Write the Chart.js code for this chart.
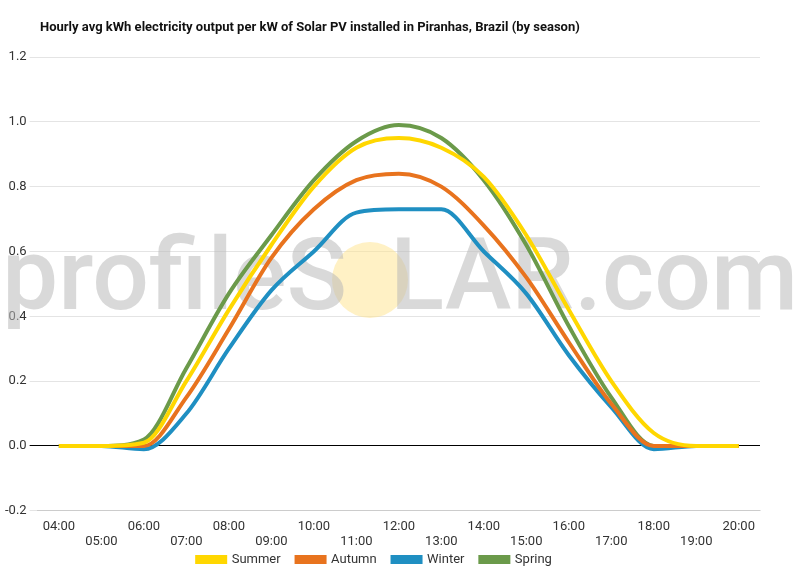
<!DOCTYPE html>
<html>
<head>
<meta charset="UTF-8">
<script src="https://cdn.jsdelivr.net/npm/chart.js"></script>
<style>
  body { margin: 0; background: #fff; font-family: Roboto, sans-serif; }
</style>
</head>
<body>
<canvas id="chart" width="800" height="570"></canvas>
<script>
const chartTitle = 'Hourly avg kWh electricity output per kW of Solar PV installed in Piranhas, Brazil (by season)';
const hours = ['04:00','05:00','06:00','07:00','08:00','09:00','10:00','11:00','12:00','13:00','14:00','15:00','16:00','17:00','18:00','19:00','20:00'];
const summer = [0, 0, 0.01, 0.2, 0.42, 0.62, 0.8, 0.92, 0.95, 0.92, 0.83, 0.65, 0.42, 0.2, 0.04, 0, 0];
const autumn = [0, 0, 0, 0.15, 0.36, 0.58, 0.73, 0.82, 0.84, 0.8, 0.68, 0.52, 0.32, 0.13, 0, 0, 0];
const winter = [0, 0, -0.01, 0.1, 0.3, 0.48, 0.6, 0.72, 0.73, 0.73, 0.6, 0.47, 0.28, 0.12, -0.01, 0, 0];
const spring = [0, 0, 0.02, 0.24, 0.47, 0.65, 0.82, 0.94, 0.99, 0.95, 0.82, 0.62, 0.37, 0.15, 0, 0, 0];

// watermark behind the lines + title
const watermark = {
  id: 'watermark',
  beforeDatasetsDraw(chart) {
    const c = chart.ctx;
    c.save();
    c.fillStyle = 'rgba(255,228,140,0.5)';
    c.beginPath(); c.arc(370, 280, 38, 0, Math.PI * 2); c.fill();
    c.font = '500 100px Roboto';
    c.fillStyle = 'rgba(185,185,185,0.55)';
    c.textBaseline = 'middle';
    c.fillText('profileS', 2, 284);
    c.textAlign = 'right';
    c.fillText('LAR.com', 798, 284);
    c.restore();
  },
  afterDraw(chart) {
    const c = chart.ctx;
    c.save();
    c.font = 'bold 13px Roboto';
    c.fillStyle = '#111';
    c.textBaseline = 'middle';
    c.fillText(chartTitle, 40, 28);
    c.restore();
  }
};

function ds(label, data, color) {
  return { label, data, borderColor: color, backgroundColor: color, borderWidth: 4, pointRadius: 0, cubicInterpolationMode: 'monotone', fill: false };
}

new Chart(document.getElementById('chart'), {
  type: 'line',
  data: {
    labels: hours,
    datasets: [ds('Summer', summer, '#ffd700'), ds('Autumn', autumn, '#e8731e'), ds('Winter', winter, '#1f8fc2'), ds('Spring', spring, '#6b9a4a')]
  },
  options: {
    responsive: false, animation: false,
    layout: { padding: { left: 2, right: 40, top: 57, bottom: -6 } },
    plugins: {
      legend: { position: 'bottom', labels: { boxWidth: 28, boxHeight: 5, color: '#333', font: { family: 'Roboto', size: 13 }, padding: 3,
        generateLabels: chart => Chart.defaults.plugins.legend.labels.generateLabels(chart).map(l => ({ ...l, text: l.text + '    ' })) } },
      tooltip: { enabled: false }
    },
    scales: {
      x: {
        offset: true,
        grid: { display: false },
        ticks: { color: '#333', font: { family: 'Roboto', size: 13 }, maxRotation: 0, autoSkip: false, padding: 0,
          callback: (v, i) => i % 2 ? ['', hours[i]] : hours[i] }
      },
      y: {
        min: -0.2, max: 1.2,
        ticks: { stepSize: 0.2, color: '#333', font: { family: 'Roboto', size: 13 }, callback: v => (Math.abs(v) < 1e-9 ? 0 : v).toFixed(1) },
        grid: { color: c => Math.abs(c.tick.value) < 1e-9 ? '#000' : '#e4e4e4' },
        border: { display: false }
      }
    }
  },
  plugins: [watermark]
});
</script>
</body>
</html>
